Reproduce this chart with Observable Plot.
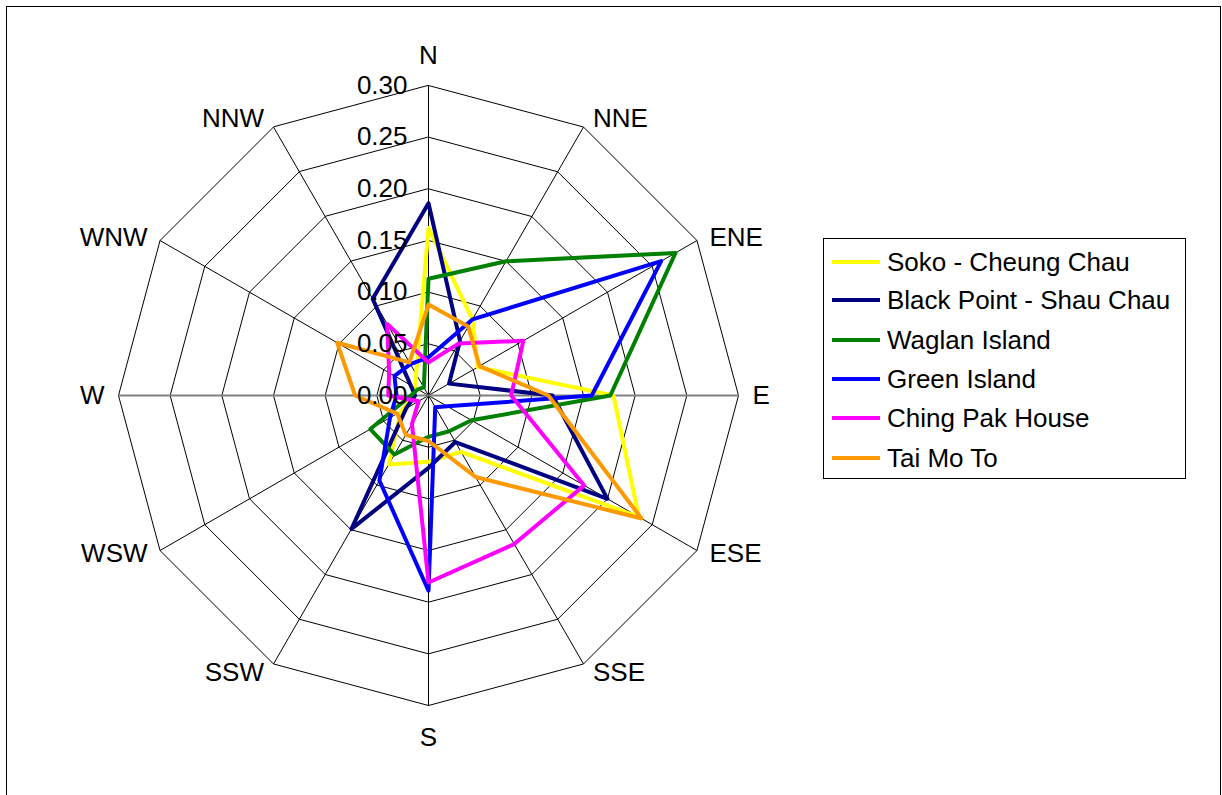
<!DOCTYPE html>
<html><head><meta charset="utf-8">
<script src="https://cdn.jsdelivr.net/npm/d3@7"></script>
<script src="https://cdn.jsdelivr.net/npm/@observablehq/plot@0.6"></script>
<style>
html,body{margin:0;padding:0;background:#fff;}
#wrap{position:relative;width:1222px;height:795px;overflow:hidden;font-family:"Liberation Sans",Arial,sans-serif;background:#fff}
#chart{position:absolute;left:0;top:0}
#frame{position:absolute;left:6px;top:6px;width:1215px;height:810px;border:1px solid #000;box-sizing:border-box;pointer-events:none}
#legend{position:absolute;left:823px;top:238px;width:363px;height:241px;border:1px solid #000;box-sizing:border-box;background:#fff}
.item{position:absolute;left:0;height:30px;display:flex;align-items:center}
.sw{width:48px;height:4px;margin-left:8px;margin-right:7px}
.lab{font-size:26px;color:#000;white-space:nowrap;line-height:30px}
</style></head><body>
<div id="wrap"><div id="chart"></div><div id="frame"></div><div id="legend"></div></div>
<script>
// ---- data ----
const directions = ["N","NNE","ENE","E","ESE","SSE","S","SSW","WSW","W","WNW","NNW"];
const seriesNames = ["Soko - Cheung Chau","Black Point - Shau Chau","Waglan Island","Green Island","Ching Pak House","Tai Mo To"];
const seriesColors = ["#FFFF00","#000080","#008000","#0000FF","#FF00FF","#FF9900"];
const soko       = [0.162,0.085,0.055,0.179,0.235,0.063,0.064,0.077,0.031,0.014,0.015,0.024];
const blackPoint = [0.186,0.061,0.023,0.120,0.200,0.052,0.070,0.149,0.025,0.013,0.020,0.108];
const waglan     = [0.113,0.150,0.276,0.176,0.048,0.040,0.040,0.066,0.065,0.017,0.012,0.009];
const greenIsl   = [0.037,0.085,0.260,0.158,0.021,0.013,0.189,0.095,0.043,0.031,0.038,0.035];
const chingPak   = [0.032,0.058,0.106,0.080,0.174,0.166,0.181,0.032,0.011,0.039,0.044,0.080];
const taiMoTo    = [0.088,0.077,0.057,0.116,0.238,0.091,0.044,0.044,0.035,0.071,0.102,0.037];
const seriesValues = [soko, blackPoint, waglan, greenIsl, chingPak, taiMoTo];
const ticks = [0, 0.05, 0.10, 0.15, 0.20, 0.25, 0.30];
const tickLabels = ["0.00","0.05","0.10","0.15","0.20","0.25","0.30"];

// ---- layout ----
const W = 1222, H = 795, cx = 428, cy = 395;
const R = ticks[ticks.length - 1];
const k = 310 / R; // px per unit
const n = directions.length;
const ang = i => i * 2 * Math.PI / n;

const rows = [];
seriesNames.forEach((name, s) => seriesValues[s].forEach((v, i) =>
  rows.push({name, i, v, x: v * Math.sin(ang(i)), y: v * Math.cos(ang(i))})));

const rings = [];
ticks.slice(1).forEach(t => directions.forEach((d, i) =>
  rings.push({t, x: t * Math.sin(ang(i)), y: t * Math.cos(ang(i))})));

const spokes = directions.map((d, i) => ({d, i, x2: R * Math.sin(ang(i)), y2: R * Math.cos(ang(i))}));
const ewSpokes = spokes.filter(s => s.d === "E" || s.d === "W");
const otherSpokes = spokes.filter(s => !(s.d === "E" || s.d === "W"));

// label anchor points just outside the outer ring
const labelPos = directions.map((d, i) => {
  const s = Math.sin(ang(i)), c = Math.cos(ang(i));
  if (Math.abs(s) < 0.01) {
    const r = R + (c > 0 ? 30 : 32) / k;
    return {d, x: 0, y: r * c, side: "middle"};
  }
  const px = Math.sign(s) * (8 + 6 * s * s);
  const py = Math.sign(c) * 11 * c * c;
  return {d, x: R * s + px / k, y: R * c + py / k, side: s > 0 ? "start" : "end"};
});

const chart = Plot.plot({
  width: W, height: H,
  marginTop: 0, marginRight: 0, marginBottom: 0, marginLeft: 0,
  x: {domain: [-cx / k, (W - cx) / k], axis: null},
  y: {domain: [-(H - cy) / k, cy / k], axis: null},
  color: {domain: seriesNames, range: seriesColors},
  style: {fontFamily: "'Liberation Sans', Arial, sans-serif", background: "transparent", overflow: "visible"},
  marks: [
    Plot.line(rings, {x: "x", y: "y", z: "t", curve: "linear-closed", stroke: "#000", strokeWidth: 1}),
    Plot.link(otherSpokes, {x1: () => 0, y1: () => 0, x2: "x2", y2: "y2", stroke: "#000", strokeWidth: 1}),
    Plot.link(ewSpokes, {x1: () => 0, y1: () => 0, x2: "x2", y2: "y2", stroke: "#808080", strokeWidth: 2}),
    Plot.line(rows, {x: "x", y: "y", z: "name", stroke: "name", curve: "linear-closed", strokeWidth: 4, strokeLinejoin: "round"}),
    Plot.text(ticks, {x: () => 0, y: d => d, text: (d, i) => tickLabels[i], textAnchor: "end", dx: -21, fontSize: 26, fill: "#000"}),
    Plot.text(labelPos.filter(l => l.side === "start"), {x: "x", y: "y", text: "d", textAnchor: "start", fontSize: 26, fill: "#000"}),
    Plot.text(labelPos.filter(l => l.side === "end"), {x: "x", y: "y", text: "d", textAnchor: "end", fontSize: 26, fill: "#000"}),
    Plot.text(labelPos.filter(l => l.side === "middle"), {x: "x", y: "y", text: "d", textAnchor: "middle", fontSize: 26, fill: "#000"})
  ]
});
document.getElementById("chart").appendChild(chart);

// ---- legend ----
const legend = document.getElementById("legend");
const legendCenters = [23, 61, 101, 140, 179, 219];
seriesNames.forEach((name, s) => {
  const item = document.createElement("div");
  item.className = "item";
  item.style.top = (legendCenters[s] - 15) + "px";
  const sw = document.createElement("div");
  sw.className = "sw";
  sw.style.background = seriesColors[s];
  const lab = document.createElement("span");
  lab.className = "lab";
  lab.textContent = name;
  item.appendChild(sw); item.appendChild(lab);
  legend.appendChild(item);
});
</script>
</body></html>
